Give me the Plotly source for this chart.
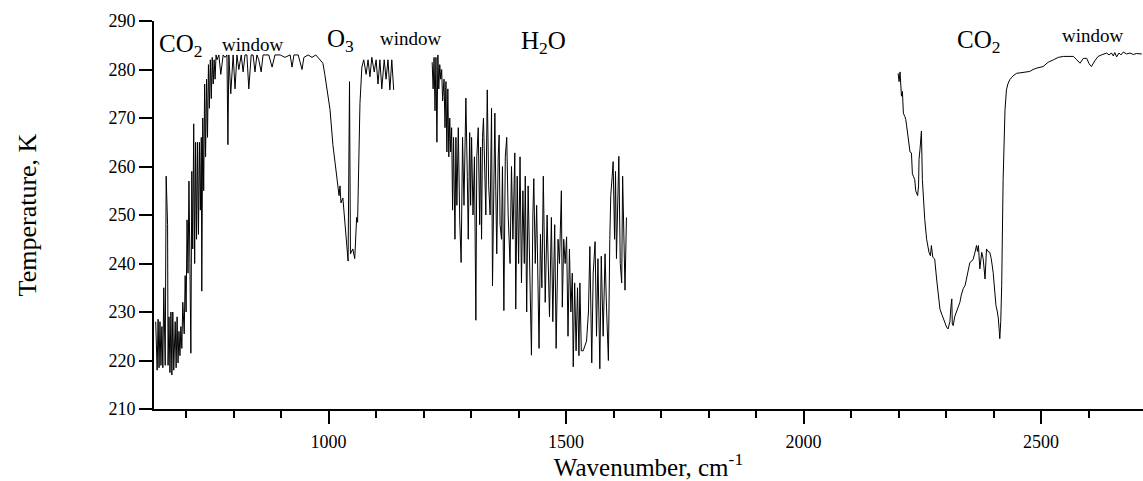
import plotly.graph_objects as go

# ---- data: brightness temperature spectrum (wavenumber cm^-1, temperature K) ----
wn_a = [636, 639, 641, 643, 645, 647, 649, 651, 653, 656, 658, 661, 662, 664, 666, 668, 670, 672, 674, 677,
        679, 681, 683, 685, 687, 689, 691, 693, 696, 698, 700, 702, 704, 706, 708, 710, 712, 714, 716, 718,
        720, 722, 724, 726, 728, 730, 732, 733, 735, 737, 739, 741, 743, 745, 747, 749, 751, 753, 755, 757,
        759, 761, 763, 765, 769, 773, 778, 782, 786, 788, 790, 794, 799, 803, 807, 811, 816, 820, 824, 828,
        832, 837, 841, 845, 849, 853, 858, 862, 868, 874, 881, 887, 898, 908, 919, 923, 927, 936, 944, 948,
        957, 965, 973, 982, 988, 992, 997, 1003, 1009, 1013, 1018, 1022, 1024, 1026, 1030, 1032, 1035, 1039,
        1041, 1044, 1046, 1051, 1055, 1059, 1061, 1066, 1070, 1074, 1079, 1083, 1087, 1091, 1096, 1100, 1104,
        1108, 1112, 1117, 1121, 1125, 1129, 1133, 1137]
temp_a = [228, 218, 228.5, 218.5, 228, 219, 227, 218.5, 235, 219, 258, 248, 219, 229, 217.5, 230, 217, 230, 218, 228,
          218.5, 229, 219.5, 226, 221, 227, 222.5, 232, 225.5, 237.5, 230, 249, 238, 257, 240, 221.5, 259, 243, 268.8, 240,
          265, 245, 265, 246, 265, 251, 266, 234.3, 270, 255, 277, 262, 278, 266, 281, 272, 282, 274, 282.5, 277,
          282, 278, 283, 282, 283, 279, 283, 282.5, 283, 264.5, 283, 275, 283, 276, 283, 280, 283, 279.5, 283, 283,
          276, 283, 283, 279.5, 283, 282, 279.5, 283, 283, 283, 280.5, 283, 283, 282.5, 283, 280.5, 283, 283, 280, 282.5,
          283, 282.5, 283, 282, 281.3, 279, 276, 271.7, 264.5, 261, 258, 254, 256, 252.5, 253.5, 251, 247, 242,
          240.5, 277.5, 242, 243, 241, 249.5, 248.5, 273, 280.5, 282, 279, 282, 278.5, 282.5, 279.5, 282, 277,
          282, 276, 282, 278, 282, 275.8, 282, 275.8]

wn_b = [1218, 1220, 1222, 1224, 1226, 1228, 1230, 1232, 1234, 1236, 1238, 1240, 1243, 1245, 1247, 1249, 1251,
        1253, 1255, 1257, 1259, 1261, 1263, 1266, 1268, 1270, 1273, 1276, 1279, 1282, 1285, 1289, 1292, 1294,
        1297, 1299, 1301, 1304, 1307, 1310, 1312, 1315, 1318, 1320, 1322, 1324, 1326, 1329, 1331, 1334, 1337,
        1340, 1343, 1345, 1348, 1350, 1352, 1354, 1357, 1359, 1361, 1364, 1366, 1369, 1372, 1375, 1378, 1382,
        1385, 1388, 1392, 1394, 1397, 1400, 1403, 1406, 1409, 1412, 1414, 1417, 1420, 1424, 1427, 1430, 1432,
        1435, 1438, 1443, 1446, 1449, 1452, 1456, 1460, 1465, 1469, 1472, 1476, 1479, 1483, 1486, 1490, 1492,
        1495, 1498, 1501, 1504, 1507, 1510, 1513, 1515, 1518, 1521, 1524, 1527, 1529, 1532, 1536, 1543, 1547,
        1550, 1554, 1557, 1561, 1564, 1567, 1571, 1574, 1578, 1582, 1585, 1589, 1592, 1594, 1597, 1599, 1602,
        1604, 1606, 1609, 1611, 1614, 1617, 1619, 1621, 1624, 1627]
temp_b = [281.5, 276, 282.5, 271.5, 282.5, 265, 283, 276, 281, 278, 280, 273.5, 278, 268, 277.5, 263, 276,
          262, 270, 263, 268, 251, 266, 245, 266, 252, 268, 249, 240.2, 266, 252, 274.1, 258, 245,
          267, 252, 266, 250, 262, 228.3, 262, 268, 248, 264, 245, 266, 270, 255, 250, 275.8, 256,
          250, 272, 235.4, 265, 271, 255, 242, 262, 266.5, 248, 245, 260, 230.3, 262, 266, 250, 240,
          260, 245, 262.8, 230.6, 258, 240, 262, 236, 255, 240, 258, 230, 256, 238, 221.1, 250, 257.5,
          240, 252, 222.5, 246, 235, 258, 232, 250, 229, 249.5, 228, 248, 222.5, 245, 240, 255, 231,
          245, 240, 245.5, 225, 243, 230, 238, 218.7, 236, 222, 235, 221, 236, 222, 222, 224, 230,
          243.5, 219.5, 238, 244.5, 225, 241, 218.3, 241.5, 225, 242, 231, 220, 245, 254, 258, 261, 245,
          259, 241, 258, 262.1, 240, 236, 258, 245, 234.5, 249.5]

wn_c = [2199, 2201, 2203, 2206, 2208, 2210, 2213, 2215, 2217, 2220, 2222, 2224, 2227, 2229, 2231, 2234, 2236,
        2238, 2240, 2242, 2243, 2245, 2247, 2248, 2250, 2252, 2255, 2259, 2262, 2264, 2267, 2269, 2272, 2276,
        2280, 2284, 2287, 2291, 2294, 2298, 2301, 2304, 2308, 2310, 2312, 2313, 2315, 2318, 2322, 2326, 2329,
        2332, 2336, 2340, 2343, 2347, 2350, 2354, 2357, 2360, 2364, 2366, 2368, 2371, 2373, 2375, 2378, 2382,
        2385, 2388, 2392, 2395, 2399, 2402, 2405, 2408, 2410, 2412, 2413, 2415, 2417, 2420, 2422, 2424, 2427,
        2430, 2434, 2441, 2448, 2462, 2476, 2483, 2491, 2504, 2515, 2526, 2536, 2547, 2558, 2568, 2575, 2582,
        2589, 2596, 2601, 2606, 2613, 2620, 2627, 2638, 2643, 2648, 2652, 2655, 2659, 2664, 2668, 2673, 2680,
        2687, 2694, 2701, 2712]
temp_c = [279.2, 277.5, 279.5, 274.5, 275.5, 271, 270.3, 269.7, 268.3, 266, 263.5, 263, 262.8, 258.5, 258, 257.3, 255,
          254.6, 254, 256, 261.5, 263.5, 266, 267.3, 257.3, 253, 249.1, 245, 243.5, 242.3, 241.6, 243.7, 241.3, 240.9,
          236.8, 233, 230.6, 229.5, 228.6, 227.5, 226.9, 226.5, 228, 231, 232.7, 227.5, 227.2, 229, 230, 231, 232,
          233.5, 234.8, 235.5, 236.8, 239, 240.2, 240.5, 240.9, 242, 243.7, 242.5, 243.7, 238.9, 240.5, 242.3, 241, 236.8,
          243, 242.5, 242.3, 241, 238.2, 235, 231.3, 230, 228.6, 226, 224.5, 228, 235.4, 257.3, 266, 271.7, 275.8,
          277, 277.9, 278.7, 279.2, 279.4, 279.6, 280, 280.3, 280.6, 281.5, 282, 282.5, 282.7, 282.7, 282.7, 282, 281.3,
          282.3, 282.3, 281.2, 280.6, 281.8, 282.7, 283, 283.4, 283, 283.4, 282.8, 283.5, 282.6, 283.4, 283, 283.6, 283.2,
          283.4, 283.1, 283.3, 283.2]

x_major_ticks = [1000, 1500, 2000, 2500]
x_minor_ticks = [700, 800, 900, 1100, 1200, 1300, 1400, 1600, 1700, 1800, 1900, 2100, 2200, 2300, 2400, 2600]
y_ticks = [210, 220, 230, 240, 250, 260, 270, 280, 290]

band_labels = ["CO<sub>2</sub>", "window", "O<sub>3</sub>", "window", "H<sub>2</sub>O", "CO<sub>2</sub>", "window"]
band_label_wn = [689, 841, 1026, 1173, 1453, 2369, 2609]
band_label_temp = [284.9, 285.1, 286.0, 286.3, 285.6, 285.8, 287.1]

FONT = "Liberation Serif"

fig = go.Figure()
for wn, tt in [(wn_a, temp_a), (wn_b, temp_b), (wn_c, temp_c)]:
    fig.add_trace(go.Scatter(x=wn, y=tt, mode="lines",
                             line=dict(color="black", width=1),
                             hoverinfo="skip", showlegend=False))

for txt, xw, yt in zip(band_labels, band_label_wn, band_label_temp):
    size = 19 if txt == "window" else 25
    fig.add_annotation(x=xw, y=yt, xref="x", yref="y", text=txt, showarrow=False,
                       font=dict(family=FONT, size=size, color="black"),
                       xanchor="center", yanchor="middle")

fig.update_layout(
    width=1143, height=481,
    margin=dict(l=154, r=0, t=21, b=70, pad=0),
    plot_bgcolor="white", paper_bgcolor="white",
    font=dict(family=FONT, color="black"),
    xaxis=dict(
        range=[632.4, 2714.5],
        showline=True, linecolor="black", linewidth=2,
        ticks="outside", ticklen=13, tickwidth=1.5, tickcolor="black",
        tickmode="array", tickvals=x_major_ticks,
        ticktext=[str(v) for v in x_major_ticks],
        tickfont=dict(family=FONT, size=18, color="black"),
        ticklabelstandoff=2,
        showgrid=False, zeroline=False,
        minor=dict(tickmode="array", tickvals=x_minor_ticks, ticks="outside",
                   ticklen=7, tickwidth=1.5, tickcolor="black", showgrid=False),
        title=dict(text="Wavenumber, cm<sup>-1</sup>",
                   font=dict(family=FONT, size=25, color="black"), standoff=12),
    ),
    yaxis=dict(
        range=[210, 290],
        showline=True, linecolor="black", linewidth=2,
        ticks="outside", ticklen=13, tickwidth=1.5, tickcolor="black",
        tickmode="array", tickvals=y_ticks,
        tickfont=dict(family=FONT, size=18, color="black"),
        showgrid=False, zeroline=False,
        title=dict(text="Temperature, K",
                   font=dict(family=FONT, size=26, color="black"), standoff=64),
    ),
)

fig.write_html("out.html")
